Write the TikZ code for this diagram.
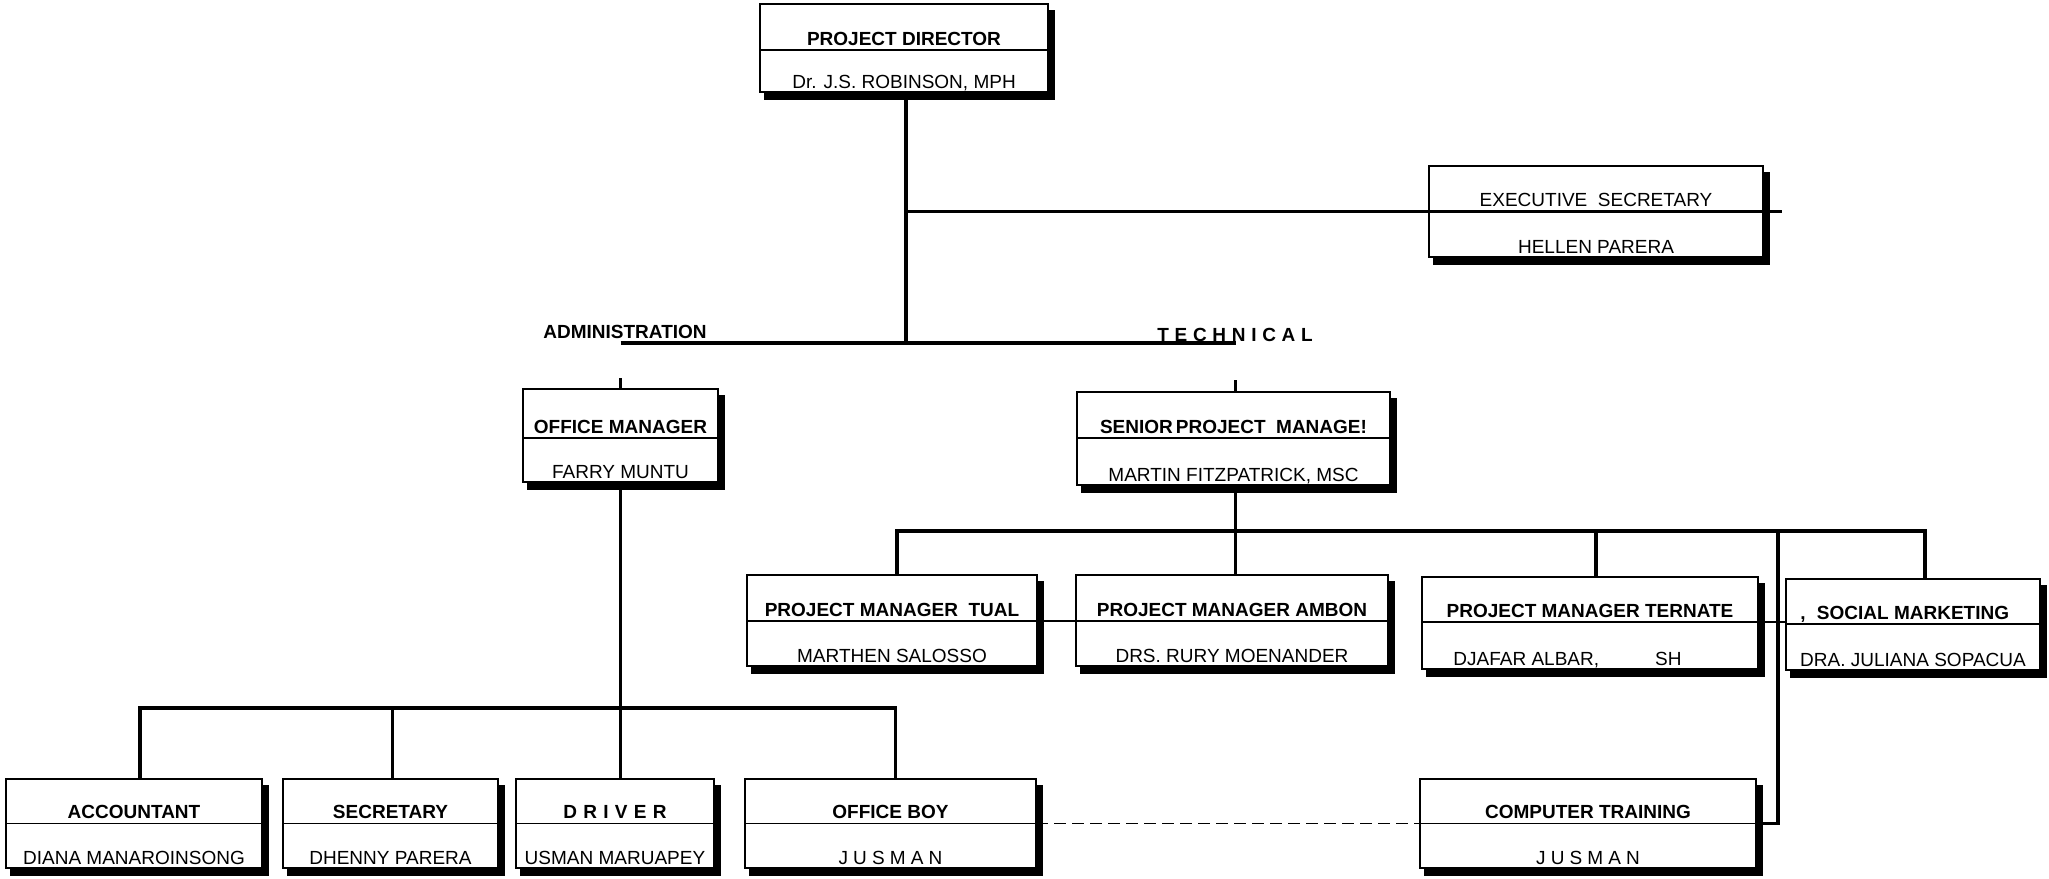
\documentclass[tikz,border=0pt]{standalone}
\usepackage{fontspec}
\setmainfont{Liberation Sans}
\usetikzlibrary{calc}
\newcommand\orgbox[8]{%
  \fill[shadowfill] ({#2+4},{#3+6}) rectangle ({#4+7},{#6+8});
  \node[obox, minimum width={(#4-#2)*0.5pt}, minimum height={(#6-#3)*0.5pt}, anchor=north west] (#1) at (#2,#3) {};
  \draw[divline] (#2,#5) -- (#4,#5);
  \node[otitle] (#1-t) at ({(#2+#4)/2},{#5-5}) {#7};
  \node[oname] (#1-p) at ({(#2+#4)/2},{#6-3.5}) {#8};
}
\newcommand\spaced[2]{{\addfontfeature{LetterSpace=#1}#2}}
\begin{document}
\begin{tikzpicture}[
 x=0.5pt, y=-0.5pt,
 obox/.style={draw, fill=white, line width=0.8pt, inner sep=0, outer sep=0},
 divline/.style={line width=0.7pt},
 otitle/.style={anchor=base, inner sep=0, font=\bfseries\fontsize{9.5}{11}\selectfont},
 oname/.style={anchor=base, inner sep=0, font=\fontsize{9.5}{11}\selectfont},
 conn/.style={line width=1.6pt},
 dashline/.style={line width=0.9pt, dash pattern=on 6pt off 3pt},
 lbl/.style={inner sep=0, font=\bfseries\fontsize{9.5}{11}\selectfont},
 shadowfill/.style={fill=black}
]
\fill[white] (0,0) rectangle (2049,878);
\useasboundingbox (0,0) rectangle (2049,878);

% boxes: name, left, top, right, divider, bottom, title, person
\orgbox{dir}{760}{4}{1048}{50}{92}{PROJECT DIRECTOR}{Dr. J.S. ROBINSON, MPH}
\orgbox{es}{1429}{166}{1763}{211}{257}{\mdseries EXECUTIVE\ \ SECRETARY}{HELLEN PARERA}
\orgbox{om}{523}{389}{718}{438}{482}{OFFICE MANAGER}{FARRY MUNTU}
\orgbox{spm}{1077}{392}{1390}{438}{485}{SENIOR\kern1.5pt PROJECT\ \ MANAGE!}{MARTIN FITZPATRICK, MSC}
\orgbox{tual}{747}{575}{1037}{621}{666}{PROJECT MANAGER\ \ TUAL}{MARTHEN SALOSSO}
\orgbox{ambon}{1076}{575}{1388}{621}{666}{PROJECT MANAGER AMBON}{DRS. RURY MOENANDER}
\orgbox{ternate}{1422}{577}{1758}{622}{669}{PROJECT MANAGER TERNATE}{}
\orgbox{social}{1786}{579}{2040}{624}{670}{SOCIAL MARKETING}{DRA. JULIANA SOPACUA}
\orgbox{acc}{6}{779}{262}{823.5}{868}{ACCOUNTANT}{DIANA MANAROINSONG}
\orgbox{sec}{283}{779}{498}{823.5}{868}{SECRETARY}{DHENNY PARERA}
\orgbox{drv}{516}{779}{714}{823.5}{868}{\spaced{33}{DRIVER}}{USMAN MARUAPEY}
\orgbox{boy}{745}{779}{1036}{823.5}{868}{OFFICE BOY}{\spaced{27}{JUSMAN}}
\orgbox{ct}{1420}{779}{1756}{823.5}{868}{COMPUTER TRAINING}{\spaced{27}{JUSMAN}}

\node[oname, anchor=base west] (ternate-p2) at (1453,665.5) {DJAFAR ALBAR,\hspace{28pt}SH};
\node[otitle, anchor=base west] (social-c) at (1800,619) {,};

% divider lines running across the technical row
\draw[divline] (tual.west |- 0,621) -- (ambon.east |- 0,621);
\draw[divline] (ternate.east |- 0,622) -- (social.west |- 0,622);

% labels
\node[lbl, anchor=base west] (admin) at (543,338) {ADMINISTRATION};
\node[lbl, anchor=base west] (tech) at (1157,341) {\spaced{30}{TECHNICAL}};

% junction points on the box edges
\coordinate (dirj) at ($(dir.south)+(2,0)$);
\coordinate (spmn) at ($(spm.north)+(2,0)$);
\coordinate (spms) at ($(spm.south)+(2,0)$);
\coordinate (tualn) at ($(tual.north)+(5,0)$);
\coordinate (ternn) at ($(ternate.north)+(6,0)$);
\coordinate (socn) at ($(social.north)+(12,0)$);
\coordinate (accn) at ($(acc.north)+(6,0)$);
\coordinate (secn) at ($(sec.north)+(2,0)$);
\coordinate (boyn) at ($(boy.north)+(5,0)$);

% connectors
\draw[conn] (dirj) -- ++(0,251) coordinate (hub);
\draw[conn] (dirj |- es.west) -- (es.east) -- ++(19,0);
\draw[conn] (om.north |- hub) -- (spmn |- hub);
\draw[conn] (om.north) -- ++(0,-11);
\draw[conn] (spmn) -- ++(0,-12);

\draw[conn] (tualn) -- ++(0,-44) coordinate (tbar) -| (socn);
\draw[conn] (spms) -- (spms |- ambon.north);
\draw[conn] (ternn |- tbar) -- (ternn);
\coordinate (ctj) at (1778,531);
\draw[conn] (ctj) |- (ct.east);

\draw[conn] (om.south) -- (om.south |- drv.north);
\draw[conn] (accn) -- ++(0,-71) coordinate (abar) -| (boyn);
\draw[conn] (secn |- abar) -- (secn);

\draw[dashline] (boy.east) -- (ct.west);
\end{tikzpicture}
\end{document}
